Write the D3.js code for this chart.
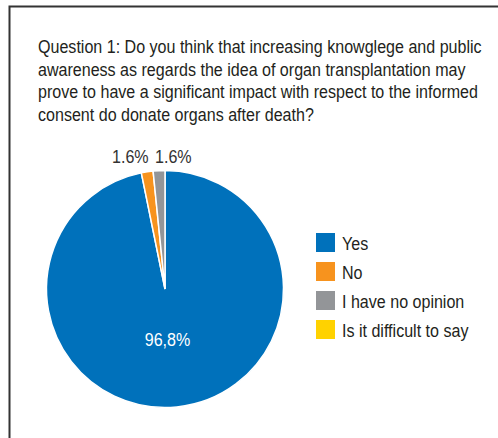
<!DOCTYPE html>
<html><head><meta charset="utf-8">
<script src="https://cdn.jsdelivr.net/npm/d3@7"></script>
<style>body{margin:0;background:#fff}svg{display:block}</style>
</head><body>
<script>
const categories = ["Yes", "No", "I have no opinion", "Is it difficult to say"];
const values = [96.8, 1.6, 1.6, 0];
const labels = ["96,8%", "1.6%", "1.6%", ""];
const colors = ["#0071BB", "#F7931E", "#939598", "#FFD200"];
const titleLines = [
  "Question 1: Do you think that increasing knowglege and public",
  "awareness as regards the idea of organ transplantation may",
  "prove to have a significant impact with respect to the informed",
  "consent do donate organs after death?"
];
const W = 498, H = 438;
const font = "'Liberation Sans', Arial, sans-serif";
const svg = d3.select("body").append("svg").attr("width", W).attr("height", H);

// condensed text helper
let K = 1;
function ctext(parent, x, y, str, size, fill, anchor) {
  return parent.append("text").attr("font-family", font).attr("font-size", size)
    .attr("fill", fill).attr("text-anchor", anchor || "start")
    .attr("transform", `translate(${x},${y}) scale(${K},1)`).text(str);
}

// condensing factor from first title line (target width 444px)
const probe = svg.append("text").attr("font-family", font).attr("font-size", 18.5).text(titleLines[0]);
K = 444 / probe.node().getComputedTextLength();
probe.remove();

svg.append("path").attr("d", `M9.5,${H} V6.5 H${W}`).attr("fill", "none")
  .attr("stroke", "#333").attr("stroke-width", 2);

titleLines.forEach((l, i) => ctext(svg, 38, 53 + i * 22.5, l, 18.5, "#231f20"));

const cx = 165, cy = 289, r = 118.5;
const data = categories.map((c, i) => ({c, v: values[i], label: labels[i], color: colors[i]}));
const pie = d3.pie().value(d => d.v).sort(null);
const arcs = pie(data);
const arc = d3.arc().innerRadius(0).outerRadius(r);
const g = svg.append("g").attr("transform", `translate(${cx},${cy})`);
g.selectAll("path").data(arcs.filter(a => a.data.v > 0)).join("path")
  .attr("d", arc).attr("fill", d => d.data.color)
  .attr("stroke", "#fff").attr("stroke-width", 1.5);

// slice labels
ctext(g, 2.5, 57, arcs[0].data.label, 18.5, "#fff", "middle");
ctext(g, -53, -126, arcs[1].data.label, 18.5, "#333", "start");
ctext(g, -10, -126, arcs[2].data.label, 18.5, "#333", "start");

const lg = svg.append("g").attr("transform", "translate(316,233)");
data.forEach((d, i) => {
  lg.append("rect").attr("y", i * 29).attr("width", 19).attr("height", 19).attr("fill", d.color);
  ctext(lg, 26, i * 29 + 16.5, d.c, 18.5, "#231f20");
});
</script>
</body></html>
